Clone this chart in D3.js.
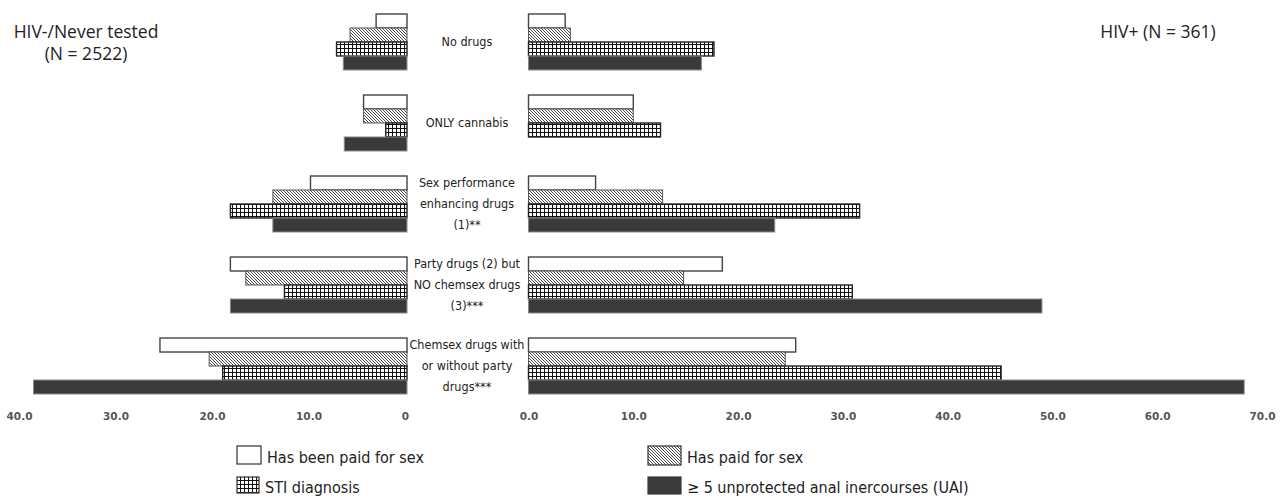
<!DOCTYPE html>
<html>
<head>
<meta charset="utf-8">
<script src="https://cdn.jsdelivr.net/npm/d3@7"></script>
<style>
 body { margin: 0; background: #fff; }
 .cond { font-family: "DejaVu Sans Condensed", "DejaVu Sans"; font-stretch: condensed; }
 .tick text { font-family: "DejaVu Sans", sans-serif; font-weight: bold; font-size: 10.5px; fill: #555; }
</style>
</head>
<body>
<svg id="chart" width="1280" height="501"></svg>
<script>
 // categories (one label line per array entry)
 let categories = ["No drugs", "ONLY cannabis", "Sex performance", "Party drugs", "Chemsex drugs"]
 let categoryLines = [
     ["No drugs"],
     ["ONLY cannabis"],
     ["Sex performance", "enhancing drugs", "(1)**"],
     ["Party drugs (2) but", "NO chemsex drugs", "(3)***"],
     ["Chemsex drugs with", "or without party", "drugs***"]
 ]
 let series = ["paid", "haspaid", "sti", "uai"]
 let seriesNames = ["Has been paid for sex", "Has paid for sex", "STI diagnosis", "≥ 5 unprotected anal inercourses (UAI)"]

 // % HIV-/Never tested, per category, per series
 let negPaid    = [3.2, 4.5, 10.0, 18.3, 25.6]
 let negHasPaid = [5.9, 4.5, 13.9, 16.7, 20.5]
 let negSti     = [7.3, 2.2, 18.3, 12.7, 19.1]
 let negUai     = [6.6, 6.5, 13.9, 18.3, 38.7]

 // % HIV+
 let posPaid    = [3.5, 10.0, 6.4, 18.5, 25.5]
 let posHasPaid = [4.0, 10.0, 12.8, 14.8, 24.5]
 let posSti     = [17.7, 12.6, 31.6, 30.9, 45.1]
 let posUai     = [16.5, 0, 23.5, 49.0, 68.3]

 let leftTicks = [0, 10, 20, 30, 40]
 let rightTicks = [0, 10, 20, 30, 40, 50, 60, 70]

 let svg = d3.select("svg#chart")

 let defs = svg.append("defs")
 let hatch = defs.append("pattern").attr("id", "hatch")
                 .attr("patternUnits", "userSpaceOnUse").attr("width", 3).attr("height", 3)
 hatch.append("rect").attr("width", 3).attr("height", 3).attr("fill", "#fff")
 hatch.append("path").attr("d", "M-1,-1L4,4M-1,2L1,4M2,-1L4,1")
      .attr("stroke", "#333").attr("stroke-width", 0.9)

 let grid = defs.append("pattern").attr("id", "grid")
                .attr("patternUnits", "userSpaceOnUse").attr("width", 4).attr("height", 4)
 grid.append("rect").attr("width", 4).attr("height", 4).attr("fill", "#fff")
 grid.append("path").attr("d", "M0,0.5H4M0.5,0V4")
     .attr("stroke", "#111").attr("stroke-width", 1.1)

 let styles = {
     paid:    {fill: "#fff", stroke: "#444", sw: 1.4},
     haspaid: {fill: "url(#hatch)", stroke: "#555", sw: 1},
     sti:     {fill: "url(#grid)", stroke: "#222", sw: 1.4},
     uai:     {fill: "#3a3a3a", stroke: "#8a8a8a", sw: 1}
 }

 const leftX = d3.scaleLinear().domain([0, 40]).range([407, 21])
 const rightX = d3.scaleLinear().domain([0, 70]).range([528.5, 1262])

 const yGroup = d3.scaleBand().domain(categories).range([14, 394]).paddingInner(0.309)
 const ySeries = d3.scaleBand().domain(series).range([0, yGroup.bandwidth()])

 function rows(vals) {
     let out = []
     categories.forEach((c, i) => {
         series.forEach((s, j) => out.push({cat: c, s: s, v: vals[j][i]}))
     })
     return out
 }
 let negData = rows([negPaid, negHasPaid, negSti, negUai])
 let posData = rows([posPaid, posHasPaid, posSti, posUai])

 let bars = svg.append("g").attr("id", "bars")

 bars.selectAll("rect.neg")
     .data(negData.filter(d => d.v > 0))
     .join("rect")
     .attr("class", "neg")
     .attr("x", d => leftX(d.v))
     .attr("y", d => yGroup(d.cat) + ySeries(d.s))
     .attr("width", d => leftX(0) - leftX(d.v))
     .attr("height", ySeries.bandwidth())
     .attr("fill", d => styles[d.s].fill)
     .attr("stroke", d => styles[d.s].stroke)
     .attr("stroke-width", d => styles[d.s].sw)

 bars.selectAll("rect.pos")
     .data(posData.filter(d => d.v > 0))
     .join("rect")
     .attr("class", "pos")
     .attr("x", rightX(0))
     .attr("y", d => yGroup(d.cat) + ySeries(d.s))
     .attr("width", d => rightX(d.v) - rightX(0))
     .attr("height", ySeries.bandwidth())
     .attr("fill", d => styles[d.s].fill)
     .attr("stroke", d => styles[d.s].stroke)
     .attr("stroke-width", d => styles[d.s].sw)

 // category labels in the middle gap
 let labels = svg.append("g").attr("class", "cond")
                 .attr("font-size", 12.5).attr("fill", "#222").attr("text-anchor", "middle")
 categories.forEach((c, i) => {
     let lines = categoryLines[i]
     let cy = yGroup(c) + yGroup.bandwidth() / 2
     let step = 21
     lines.forEach((t, k) => {
         labels.append("text")
               .attr("x", 467)
               .attr("y", cy + (k - (lines.length - 1) / 2) * step)
               .attr("dy", "0.35em")
               .text(t)
     })
 })

 // axes
 let leftAxis = d3.axisBottom(leftX).tickValues(leftTicks)
                  .tickFormat(d => d === 0 ? "0" : d3.format(".1f")(d)).tickSize(0)
 svg.append("g").attr("transform", "translate(-2,410)").call(leftAxis)
    .call(g => g.select(".domain").remove())

 let rightAxis = d3.axisBottom(rightX).tickValues(rightTicks)
                   .tickFormat(d3.format(".1f")).tickSize(0)
 svg.append("g").attr("transform", "translate(0,410)").call(rightAxis)
    .call(g => g.select(".domain").remove())

 // group headers
 let head = svg.append("g").attr("font-family", "'Open Sans', 'DejaVu Sans', sans-serif")
               .attr("font-size", 17.5).attr("fill", "#222")
 head.append("text").attr("x", 86).attr("y", 38).attr("text-anchor", "middle").text("HIV-/Never tested")
 head.append("text").attr("x", 86).attr("y", 60).attr("text-anchor", "middle").text("(N = 2522)")
 head.append("text").attr("x", 1158).attr("y", 38).attr("text-anchor", "middle").text("HIV+ (N = 361)")

 // legend
 let legendPos = [
     {x: 237, y: 446, w: 24, h: 18},
     {x: 648, y: 446, w: 33, h: 19},
     {x: 237, y: 477, w: 22, h: 16},
     {x: 648, y: 477, w: 33, h: 17}
 ]
 let legend = svg.append("g").attr("class", "cond").attr("font-size", 16).attr("fill", "#222")
 series.forEach((s, i) => {
     let p = legendPos[i]
     legend.append("rect").attr("x", p.x).attr("y", p.y).attr("width", p.w).attr("height", p.h)
           .attr("fill", styles[s].fill).attr("stroke", s === "uai" ? "#3a3a3a" : "#333")
           .attr("stroke-width", 1.2)
     legend.append("text").attr("x", p.x + p.w + 6).attr("y", p.y + p.h / 2 + 2)
           .attr("dy", "0.35em").text(seriesNames[i])
 })
</script>
</body>
</html>
